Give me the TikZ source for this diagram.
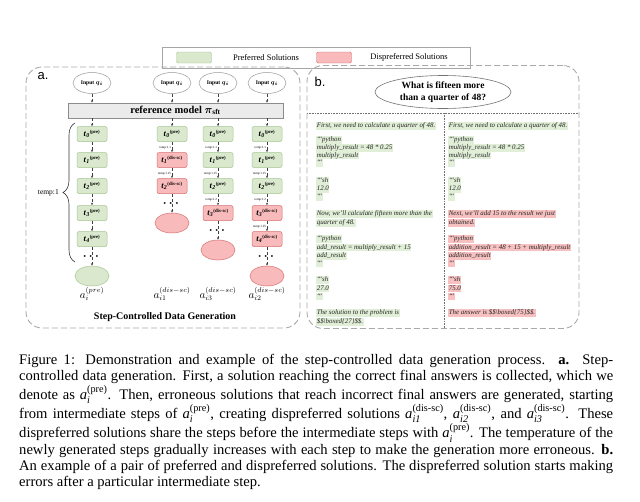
\documentclass[tikz,border=0pt]{standalone}
\usepackage{fontspec}
\setmainfont{Liberation Serif}
\setsansfont{Liberation Sans}
\usepackage{amsmath}
\usetikzlibrary{shapes.geometric,arrows.meta,decorations.pathreplacing}
\definecolor{pfill}{RGB}{218,233,206}
\definecolor{pdraw}{RGB}{165,198,145}
\definecolor{dfill}{RGB}{248,186,186}
\definecolor{ddraw}{RGB}{214,112,112}
\definecolor{hgreen}{RGB}{226,239,216}
\definecolor{hred}{RGB}{247,193,193}
\definecolor{dashgray}{RGB}{170,170,170}
\definecolor{txt}{RGB}{35,35,35}
\newcommand\tstep[2]{$\textbf{\textit{t}}_{\textbf{\textit{#1}}}{}^{\text{\fontsize{4.8}{5}\selectfont\bfseries(#2)}}$}
\newcommand\capa[2]{$\textit{a}_{\textit{#1}}^{\text{(#2)}}$}
\begin{document}
\begin{tikzpicture}[x=1pt,y=-1pt,
  panel/.style={draw=dashgray,line width=0.9pt,dash pattern=on 6pt off 3pt,rounded corners=16pt,inner sep=0pt},
  prefbox/.style={draw=pdraw,fill=pfill,rounded corners=2pt,minimum width=30pt,minimum height=15pt,inner sep=0pt,line width=0.5pt,font=\fontsize{8.5}{9}\selectfont},
  disbox/.style={draw=ddraw,fill=dfill,rounded corners=2pt,minimum width=30pt,minimum height=15pt,inner sep=0pt,line width=0.5pt,font=\fontsize{8.5}{9}\selectfont},
  prefend/.style={ellipse,draw=pdraw,fill=pfill,minimum width=34pt,minimum height=20pt,inner sep=0pt,line width=0.5pt},
  disend/.style={ellipse,draw=ddraw,fill=dfill,minimum width=34pt,minimum height=20pt,inner sep=0pt,line width=0.5pt},
  inp/.style={ellipse,draw=black!40,fill=white,minimum width=38pt,minimum height=21pt,inner sep=0pt,line width=0.5pt,font=\fontsize{5.6}{6}\selectfont\bfseries},
  conn/.style={draw=black!75,densely dashed,line width=0.45pt,-{Stealth[length=2.6pt,width=2.2pt]}},
  templ/.style={font=\fontsize{3.2}{3.5}\selectfont,inner sep=0.8pt,anchor=east},
  dotsn/.style={inner sep=0pt,font=\fontsize{12}{12}\selectfont},
  alab/.style={font=\fontsize{10.5}{11}\selectfont,inner sep=0pt},
  hg/.style={fill=hgreen,anchor=west,inner xsep=0.6pt,inner ysep=0.3pt,text height=5.1pt,text depth=1.7pt,text=txt,font=\fontsize{6.9}{7}\selectfont\itshape},
  hr/.style={hg,fill=hred},
  sep/.style={draw=black!55,densely dotted,line width=0.6pt}
]
\useasboundingbox (0,0) rectangle (640,501);
\fill[white] (0,0) rectangle (640,501);

% legend
\node[draw=black!35,line width=0.6pt,minimum width=308pt,minimum height=21pt,inner sep=0pt] (leg) at (316,57.5) {};
\node[draw=pdraw,fill=pfill,rounded corners=1.5pt,minimum width=35pt,minimum height=11pt,inner sep=0pt] (sw1) at (194,57.5) {};
\node[font=\fontsize{8.5}{10}\selectfont,inner sep=0pt] (lt1) at (266,57.5) {Preferred Solutions};
\node[draw=ddraw,fill=dfill,rounded corners=1.5pt,minimum width=35pt,minimum height=11pt,inner sep=0pt] (sw2) at (334,57.5) {};
\node[font=\fontsize{8.5}{10}\selectfont,inner sep=0pt] (lt2) at (409,57.5) {Dispreferred Solutions};

% panels
\node[panel,minimum width=274pt,minimum height=261pt] (pa) at (163,197.5) {};
\node[panel,minimum width=272pt,minimum height=263pt] (pb) at (443,197) {};
\node[font=\sffamily\fontsize{13}{14}\selectfont,anchor=base,inner sep=0pt] (la) at (43,79) {a.};
\node[font=\sffamily\fontsize{13}{14}\selectfont,anchor=base,inner sep=0pt] (lb) at (320,86) {b.};

% panel a
\node[inp] (in1) at (92,83) {Input $\boldsymbol{q_i}$};
\node[inp] (in2) at (172,83) {Input $\boldsymbol{q_i}$};
\node[inp] (in3) at (218,83) {Input $\boldsymbol{q_i}$};
\node[inp] (in4) at (267,83) {Input $\boldsymbol{q_i}$};
\node[draw=black!45,fill=black!8,minimum width=215pt,minimum height=15pt,inner sep=0pt,line width=0.5pt,font=\fontsize{10.5}{12}\selectfont\bfseries] (ref) at (175.5,110.5) {reference model $\boldsymbol{\pi}_{\textbf{sft}}$};

% column 1
\node[prefbox] (s10) at (92,134) {\tstep{0}{pre}};
\node[prefbox] (s11) at (92,160) {\tstep{1}{pre}};
\node[prefbox] (s12) at (92,186) {\tstep{2}{pre}};
\node[prefbox] (s13) at (92,213) {\tstep{3}{pre}};
\node[prefbox] (s14) at (92,239) {\tstep{4}{pre}};
\node[prefend] (e1) at (92,276) {};
% column 2
\node[prefbox] (s20) at (172,134) {\tstep{0}{pre}};
\node[disbox] (s21) at (172,160) {\tstep{1}{dis-sc}};
\node[disbox] (s22) at (172,186) {\tstep{2}{dis-sc}};
\node[disend] (e2) at (172,223) {};
% column 3
\node[prefbox] (s30) at (218,134) {\tstep{0}{pre}};
\node[prefbox] (s31) at (218,160) {\tstep{1}{pre}};
\node[prefbox] (s32) at (218,186) {\tstep{2}{pre}};
\node[disbox] (s33) at (218,213) {\tstep{3}{dis-sc}};
\node[disend] (e3) at (218,250) {};
% column 4
\node[prefbox] (s40) at (267,134) {\tstep{0}{pre}};
\node[prefbox] (s41) at (267,160) {\tstep{1}{pre}};
\node[prefbox] (s42) at (267,186) {\tstep{2}{pre}};
\node[disbox] (s43) at (267,213) {\tstep{3}{dis-sc}};
\node[disbox] (s44) at (267,239) {\tstep{4}{dis-sc}};
\node[disend] (e4) at (267,276) {};

% connectors
\foreach \n in {1,2,3,4} {
  \draw[conn] (in\n) -- (in\n |- ref.north);
  \draw[conn] (s\n0 |- ref.south) -- (s\n0);
}
\draw[conn] (s10) -- (s11);
\draw[conn] (s11) -- (s12);
\draw[conn] (s12) -- (s13);
\draw[conn] (s13) -- (s14);
\draw[conn] (s14) -- node[dotsn] (d1) {$\boldsymbol{\cdots}$} (e1);
\draw[conn] (s20) -- node[templ,pos=0.55] (t21) {temp:1.1} (s21);
\draw[conn] (s21) -- node[templ,pos=0.55] (t22) {temp:1.15} (s22);
\draw[conn] (s22) -- node[dotsn] (d2) {$\boldsymbol{\cdots}$} (e2);
\draw[conn] (s30) -- node[templ,pos=0.55] (t31) {temp:1.1} (s31);
\draw[conn] (s31) -- node[templ,pos=0.55] (t32) {temp:1.15} (s32);
\draw[conn] (s32) -- node[templ,pos=0.55] (t33) {temp:1.2} (s33);
\draw[conn] (s33) -- node[dotsn] (d3) {$\boldsymbol{\cdots}$} (e3);
\draw[conn] (s40) -- node[templ,pos=0.55] (t41) {temp:1.1} (s41);
\draw[conn] (s41) -- node[templ,pos=0.55] (t42) {temp:1.15} (s42);
\draw[conn] (s42) -- node[templ,pos=0.55] (t43) {temp:1.2} (s43);
\draw[conn] (s43) -- node[templ,pos=0.55] (t44) {temp:1.25} (s44);
\draw[conn] (s44) -- node[dotsn] (d4) {$\boldsymbol{\cdots}$} (e4);

% brace
\coordinate (bB) at (75,262);
\coordinate (bT) at (75,123);
\draw[black!80,line width=0.6pt,decorate,decoration={brace,amplitude=12pt}] (bB) -- (bT);
\node[font=\fontsize{7.5}{8}\selectfont,anchor=east,inner sep=0pt] (tmp1) at (59,193) {temp:1};

% end labels
\node[alab] (l1) at (92,294) {$a_i^{(pre)}$};
\node[alab] (l2) at (172,294) {$a_{i1}^{(dis-sc)}$};
\node[alab] (l3) at (218,294) {$a_{i3}^{(dis-sc)}$};
\node[alab] (l4) at (267,294) {$a_{i2}^{(dis-sc)}$};
\node[font=\fontsize{10}{11}\selectfont\bfseries,inner sep=0pt] (ttl) at (165,317) {Step-Controlled Data Generation};

% panel b
\node[ellipse,draw=black!55,fill=white,line width=0.6pt,minimum width=136pt,minimum height=33pt,inner sep=0pt,align=center,font=\fontsize{9.5}{12}\selectfont\bfseries] (qn) at (443,92) {What is fifteen more\\than a quarter of 48?};
\coordinate (hL) at (307,113);
\coordinate (hR) at (579,113);
\coordinate (vT) at (444,113);
\coordinate (vB) at (444,328);
\draw[sep] (hL) -- (hR);
\draw[sep] (vT) -- (vB);

% left column
\node[hg] (L1) at (316,126) {First, we need to calculate a quarter of 48.};
\node[hg] (L2) at (316,140) {`{}`{}`python};
\node[hg] (L3) at (316,148) {multiply\_result = 48 * 0.25};
\node[hg] (L4) at (316,155.5) {multiply\_result};
\node[hg] (L5) at (316,163) {`{}`{}`};
\node[hg] (L6) at (316,181) {`{}`{}`sh};
\node[hg] (L7) at (316,189) {12.0};
\node[hg] (L8) at (316,197) {`{}`{}`};
\node[hg] (L9) at (316,214) {Now, we'll calculate fifteen more than the};
\node[hg] (L10) at (316,223) {quarter of 48.};
\node[hg] (L11) at (316,239) {`{}`{}`python};
\node[hg] (L12) at (316,247.5) {add\_result = multiply\_result + 15};
\node[hg] (L13) at (316,256) {add\_result};
\node[hg] (L14) at (316,263.5) {`{}`{}`};
\node[hg] (L15) at (316,280) {`{}`{}`sh};
\node[hg] (L16) at (316,288.5) {27.0};
\node[hg] (L17) at (316,296.5) {`{}`{}`};
\node[hg] (L18) at (316,313) {The solution to the problem is};
\node[hg] (L19) at (316,322) {\$\$\textbackslash boxed\{27\}\$\$.};

% right column
\node[hg] (R1) at (448,126) {First, we need to calculate a quarter of 48.};
\node[hg] (R2) at (448,140) {`{}`{}`python};
\node[hg] (R3) at (448,148) {multiply\_result = 48 * 0.25};
\node[hg] (R4) at (448,155.5) {multiply\_result};
\node[hg] (R5) at (448,163) {`{}`{}`};
\node[hg] (R6) at (448,181) {`{}`{}`sh};
\node[hg] (R7) at (448,189) {12.0};
\node[hg] (R8) at (448,197) {`{}`{}`};
\node[hr] (R9) at (448,214) {Next, we'll add 15 to the result we just};
\node[hr] (R10) at (448,223) {obtained.};
\node[hr] (R11) at (448,239) {`{}`{}`python};
\node[hr] (R12) at (448,247.5) {addition\_result = 48 + 15 + multiply\_result};
\node[hr] (R13) at (448,256) {addition\_result};
\node[hr] (R14) at (448,263.5) {`{}`{}`};
\node[hr] (R15) at (448,280) {`{}`{}`sh};
\node[hr] (R16) at (448,288.5) {75.0};
\node[hr] (R17) at (448,296.5) {`{}`{}`};
\node[hr] (R18) at (448,313) {The answer is \$\$\textbackslash boxed\{75\}\$\$.};

% caption
\node[anchor=north west,inner sep=0pt,text width=594pt,align=justify,font=\fontsize{14.6}{16.3}\selectfont] (cap) at (19,354) {\tolerance=9999\emergencystretch=20pt
Figure 1: Demonstration and example of the step-controlled data generation process. \textbf{a.} Step-\linebreak
controlled data generation. First, a solution reaching the correct final answers is collected, which we\linebreak
denote as \capa{i}{pre}. Then, erroneous solutions that reach incorrect final answers are generated, starting\linebreak
from intermediate steps of \capa{i}{pre}, creating dispreferred solutions \capa{i1}{dis-sc}, \capa{i2}{dis-sc}, and \capa{i3}{dis-sc}. These\linebreak
dispreferred solutions share the steps before the intermediate steps with \capa{i}{pre}. The temperature of the\linebreak
newly generated steps gradually increases with each step to make the generation more erroneous. \textbf{b.}\linebreak
An example of a pair of preferred and dispreferred solutions. The dispreferred solution starts making\linebreak
errors after a particular intermediate step.};
\end{tikzpicture}
\end{document}
